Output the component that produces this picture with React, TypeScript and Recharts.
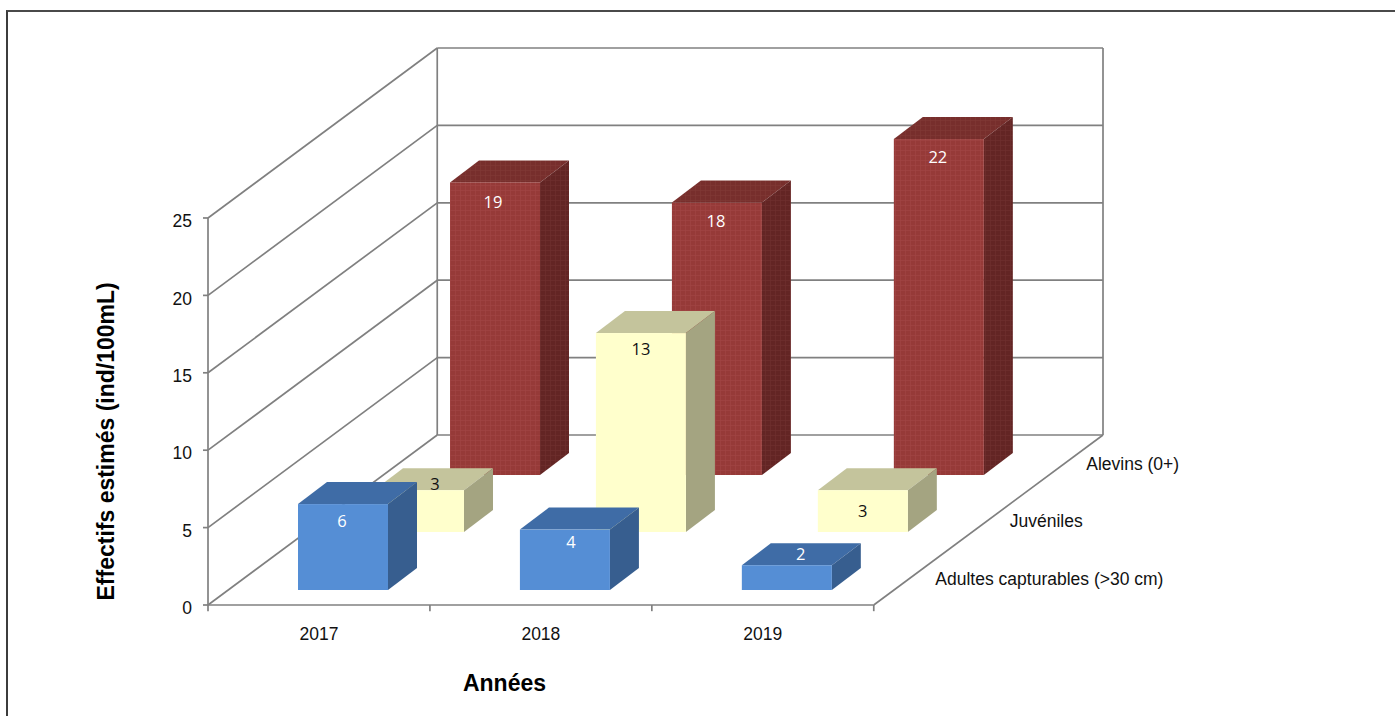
import { Bar, BarChart, ReferenceDot, ReferenceLine, XAxis, YAxis } from 'recharts';

const years = [2017, 2018, 2019];
const adultes = [5.55, 3.9, 1.6];
const juveniles = [2.7, 12.85, 2.7];
const alevins = [18.9, 17.6, 21.7];
const adultesLabels = ['6', '4', '2'];
const juvenilesLabels = ['3', '13', '3'];
const alevinsLabels = ['19', '18', '22'];
const valueTicks = [0, 5, 10, 15, 20, 25];
const depthNames = ['Alevins (0+)', 'Juvéniles', 'Adultes capturables (>30 cm)'];
const depthNameYears = [2020.435, 2020.09, 2019.755];
const depthNameValues = [9.1, 5.43, 1.68];

const X_MIN = 2016.5;
const X_FRONT_MAX = 2019.5;
const DEPTH_X = 1.033; // back wall shift in years
const DEPTH_Y = 10.98; // back wall shift in values
const GRID = '#808080';
const TEXT = '#111';

const table = years.map((year, i) => ({
  year,
  adultes: adultes[i],
  juveniles: juveniles[i],
  alevins: alevins[i],
}));

interface BoxStyle {
  front: string;
  top: string;
  side: string;
  text: string;
  shiftX: number;
  shiftY: number;
  labels: string[];
  labelDx: number[];
  labelDy: number[];
}

function boxShape(s: BoxStyle) {
  return function BoxShape(props: any) {
    const { x, y, width, height, index } = props;
    const left = x + s.shiftX;
    const top = y + s.shiftY;
    const right = left + width;
    const bottom = top + height;
    const dx = 29;
    const dy = 22;
    return (
      <g>
        <polygon
          points={`${left},${top} ${left + dx},${top - dy} ${right + dx},${top - dy} ${right},${top}`}
          fill={s.top}
        />
        <polygon
          points={`${right},${top} ${right + dx},${top - dy} ${right + dx},${bottom - dy} ${right},${bottom}`}
          fill={s.side}
        />
        <rect x={left} y={top} width={width} height={height} fill={s.front} />
        <text
          x={left + width / 2 + s.labelDx[index]}
          y={top + s.labelDy[index] + 6}
          textAnchor="middle"
          fontSize={16.5}
          fontFamily="Open Sans"
          fill={s.text}
        >
          {s.labels[index]}
        </text>
      </g>
    );
  };
}

function wall(x1: number, y1: number, x2: number, y2: number, key: string) {
  return (
    <ReferenceLine
      key={key}
      ifOverflow="visible"
      stroke={GRID}
      strokeWidth={1.7}
      zIndex={100}
      segment={[
        { x: x1, y: y1 },
        { x: x2, y: y2 },
      ]}
    />
  );
}

export default function App() {
  const backLeft = X_MIN + DEPTH_X;
  const backRight = X_FRONT_MAX + DEPTH_X;
  const top = valueTicks[valueTicks.length - 1];
  return (
    <div
      style={{
        position: 'absolute',
        left: 0,
        top: 0,
        width: 1395,
        height: 716,
        overflow: 'hidden',
        background: '#fff',
      }}
    >
      <div
        style={{
          position: 'absolute',
          left: 6,
          top: 10,
          width: 1400,
          height: 720,
          borderLeft: '2px solid #3c3c3c',
          borderTop: '2px solid #4a4a4a',
        }}
      />
      <div style={{ position: 'absolute', left: 0, top: 0 }}>
        <BarChart
          width={1395}
          height={716}
          data={table}
          barSize={90}
          barGap={-90}
          margin={{ top: 48, right: 292, bottom: 81, left: 0 }}
          style={{ fontFamily: 'Liberation Sans' }}
        >
          <defs>
            <pattern id="redFront" width="5" height="5" patternUnits="userSpaceOnUse">
              <rect width="5" height="5" fill="#963a38" />
              <rect width="1" height="5" fill="#a04543" opacity={0.7} />
              <rect width="5" height="1" fill="#a04543" opacity={0.7} />
            </pattern>
            <pattern id="redTop" width="5" height="5" patternUnits="userSpaceOnUse">
              <rect width="5" height="5" fill="#772e2c" />
              <rect width="1" height="5" fill="#803735" opacity={0.7} />
              <rect width="5" height="1" fill="#803735" opacity={0.7} />
            </pattern>
            <pattern id="redSide" width="5" height="5" patternUnits="userSpaceOnUse">
              <rect width="5" height="5" fill="#632524" />
              <rect width="1" height="5" fill="#6e2f2d" opacity={0.7} />
              <rect width="5" height="1" fill="#6e2f2d" opacity={0.7} />
            </pattern>
          </defs>
          <XAxis
            type="number"
            dataKey="year"
            domain={[X_MIN, X_FRONT_MAX + DEPTH_X]}
            allowDataOverflow
            ticks={years}
            interval={0}
            tickLine={false}
            axisLine={false}
            tickMargin={17}
            height={30}
            tick={{ fontSize: 17.5, fill: TEXT }}
            tickFormatter={(v: number) => String(v)}
            label={{
              value: 'Années',
              position: 'insideBottom',
              dx: -151,
              dy: 61,
              fontSize: 23,
              fontWeight: 700,
              fill: '#000',
            }}
          />
          <YAxis
            type="number"
            domain={[0, top + DEPTH_Y]}
            allowDataOverflow
            ticks={valueTicks}
            interval={0}
            width={208}
            axisLine={false}
            tickSize={5}
            tickMargin={11}
            tickLine={{ stroke: GRID, strokeWidth: 1.7 }}
            tick={{ fontSize: 17.5, fill: TEXT, dy: 3 }}
            label={{
              value: 'Effectifs estimés (ind/100mL)',
              angle: -90,
              position: 'insideLeft',
              dx: 101,
              dy: 274,
              fontSize: 23,
              fontWeight: 700,
              fill: '#000',
            }}
          />

          {valueTicks.map((v) => wall(backLeft, v + DEPTH_Y, backRight, v + DEPTH_Y, `back-${v}`))}
          {valueTicks.map((v) => wall(X_MIN, v, backLeft, v + DEPTH_Y, `left-${v}`))}
          {wall(backLeft, DEPTH_Y, backLeft, top + DEPTH_Y, 'back-left')}
          {wall(backRight, DEPTH_Y, backRight, top + DEPTH_Y, 'back-right')}
          {wall(X_MIN, 0, X_MIN, top, 'front-left')}
          {wall(X_MIN, 0, X_FRONT_MAX, 0, 'front-floor')}
          {wall(X_FRONT_MAX, 0, backRight, DEPTH_Y, 'right-floor')}
          {[0, 1, 2, 3].map((i) =>
            wall(X_MIN + i, 0, X_MIN + i, -0.4, `x-tick-${i}`),
          )}

          <Bar
            dataKey="alevins"
            isAnimationActive={false}
            shape={boxShape({
              front: 'url(#redFront)',
              top: 'url(#redTop)',
              side: 'url(#redSide)',
              text: '#fff',
              shiftX: 176,
              shiftY: -130,
              labels: alevinsLabels,
              labelDx: [-2, -1, -1],
              labelDy: [20, 18, 18],
            })}
          />
          <Bar
            dataKey="juveniles"
            isAnimationActive={false}
            shape={boxShape({
              front: '#ffffcc',
              top: '#c4c49c',
              side: '#a4a481',
              text: '#111',
              shiftX: 100,
              shiftY: -73,
              labels: juvenilesLabels,
              labelDx: [16, 0, 0],
              labelDy: [-6, 16, 21],
            })}
          />
          <Bar
            dataKey="adultes"
            isAnimationActive={false}
            shape={boxShape({
              front: '#558ed5',
              top: '#3f6ca6',
              side: '#375e8f',
              text: '#fff',
              shiftX: 24,
              shiftY: -15,
              labels: adultesLabels,
              labelDx: [-1, 6, 14],
              labelDy: [17, 12, -11],
            })}
          />

          {depthNames.map((name, i) => (
            <ReferenceDot
              key={name}
              x={depthNameYears[i]}
              y={depthNameValues[i]}
              r={0}
              ifOverflow="visible"
              label={{ value: name, position: 'right', fontSize: 17.5, fill: TEXT }}
            />
          ))}
        </BarChart>
      </div>
    </div>
  );
}
